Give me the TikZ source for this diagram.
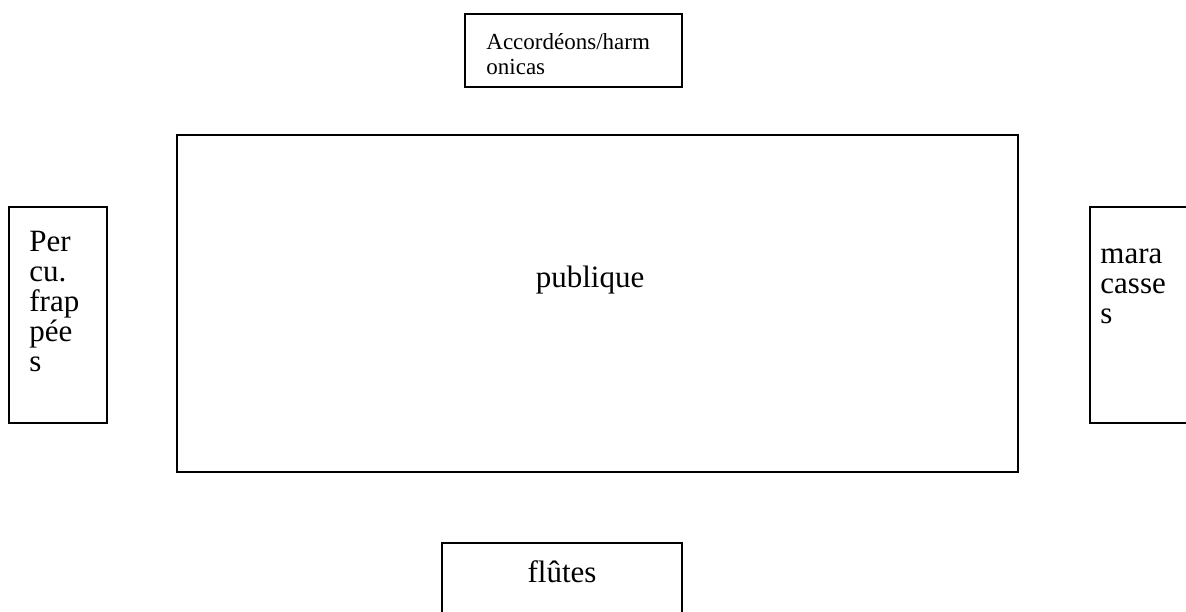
\documentclass[tikz,border=0pt]{standalone}
\usepackage{fontspec}
\setmainfont{Liberation Serif}
\usepackage{tikz}
\usetikzlibrary{positioning, calc}

\tikzset{
    instbox/.style={draw, line width=1.6pt, inner sep=0pt},
    lbl/.style={inner sep=0pt, align=left, font=\fontsize{31}{30}\selectfont},
    smalllbl/.style={inner sep=0pt, align=left, font=\fontsize{23}{25}\selectfont}
}

\begin{document}
\begin{tikzpicture}[x=1pt,y=-1pt]
        \useasboundingbox (0,0) rectangle (1186,611);
        \clip (0,0) rectangle (1186,611);

        % Boxes
        \node[instbox, minimum width=217, minimum height=73] (accord) at (573.5,50.5) {};
        \node[instbox, minimum width=841, minimum height=337] (publique) at (597.5,303.5) {};
        \node[instbox, minimum width=98, minimum height=216] (percu) at (58,315) {};
        \node[instbox, minimum width=97, minimum height=216] (maracas) at (1138.5,315) {};
        \node[instbox, minimum width=240, minimum height=82] (flutes) at (562,584) {};

        % Labels (base = last line)
        \node[smalllbl, anchor=base west] (accordtxt) at ([shift={(22,61)}]accord.north west) {Accordéons/harm\\onicas};
        \node[lbl, anchor=base] (publiquetxt) at (590,287) {publique};
        \node[lbl, anchor=base west] (percutxt) at ([shift={(21,165)}]percu.north west) {Per\\cu.\\frap\\pée\\s};
        \node[lbl, anchor=base west] (maracastxt) at ([shift={(11,117)}]maracas.north west) {mara\\casse\\s};
        \node[lbl, anchor=base] (flutestxt) at ([shift={(0,40)}]flutes.north) {flûtes};
    \end{tikzpicture}
\end{document}
